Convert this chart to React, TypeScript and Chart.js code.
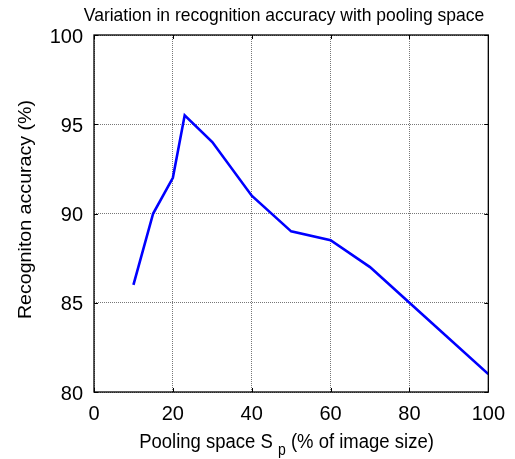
import React, { useEffect, useRef } from "react";
import { Chart, registerables } from "chart.js";

Chart.register(...registerables);

const poolingSpace = [10, 15, 20, 23, 30, 40, 50, 60, 70, 80, 100];
const accuracy = [86, 90, 92, 95.5, 94, 91, 89, 88.5, 87, 85, 81];
const xTicks = [0, 20, 40, 60, 80, 100];
const yTicks = [80, 85, 90, 95, 100];

const titleText = "Variation in recognition accuracy with pooling space";
const yTitle = "Recogniton accuracy (%)";
const xTitleMain = "Pooling space S ";
const xTitleSub = "p";
const xTitleTail = " (% of image size)";

export default function App() {
  const ref = useRef<HTMLCanvasElement | null>(null);
  useEffect(() => {
    document.body.style.margin = "0";
    const canvas = ref.current;
    if (!canvas) return;
    const font = "'Liberation Sans', Arial, sans-serif";
    const framePlugin = {
      id: "frame",
      afterDraw(chart: any) {
        const { ctx, chartArea } = chart;
        const { left, right, top, bottom } = chartArea;
        const xs = chart.scales.x;
        const ys = chart.scales.y;
        ctx.save();
        ctx.strokeStyle = "#000";
        ctx.lineWidth = 1.3;
        ctx.strokeRect(left, top, right - left, bottom - top);
        ctx.lineWidth = 1;
        const tl = 4;
        ctx.beginPath();
        for (const v of xTicks) {
          const px = Math.round(xs.getPixelForValue(v)) + 0.5;
          ctx.moveTo(px, bottom);
          ctx.lineTo(px, bottom - tl);
          ctx.moveTo(px, top);
          ctx.lineTo(px, top + tl);
        }
        for (const v of yTicks) {
          const py = Math.round(ys.getPixelForValue(v)) + 0.5;
          ctx.moveTo(left, py);
          ctx.lineTo(left + tl, py);
          ctx.moveTo(right, py);
          ctx.lineTo(right - tl, py);
        }
        ctx.stroke();
        ctx.fillStyle = "#000";
        ctx.textBaseline = "alphabetic";

        // title
        ctx.save();
        ctx.textAlign = "center";
        ctx.font = `17.5px ${font}`;
        ctx.translate(284, 21);
        ctx.scale(1, 1.06);
        ctx.fillText(titleText, 0, 0);
        ctx.restore();

        // x title with subscript
        ctx.save();
        ctx.font = `18.5px ${font}`;
        const w1 = ctx.measureText(xTitleMain).width;
        const w3 = ctx.measureText(xTitleTail).width;
        ctx.font = `14px ${font}`;
        const w2 = ctx.measureText(xTitleSub).width;
        const total = w1 + w2 + w3;
        const cx = 286.5;
        ctx.translate(cx - total / 2, 448);
        ctx.scale(1, 1.12);
        ctx.textAlign = "left";
        ctx.font = `18.5px ${font}`;
        ctx.fillText(xTitleMain, 0, 0);
        ctx.font = `14px ${font}`;
        ctx.fillText(xTitleSub, w1, 6);
        ctx.font = `18.5px ${font}`;
        ctx.fillText(xTitleTail, w1 + w2, 0);
        ctx.restore();

        // y title
        ctx.save();
        ctx.translate(31, 209.5);
        ctx.rotate(-Math.PI / 2);
        ctx.scale(1.09, 1);
        ctx.textAlign = "center";
        ctx.font = `18px ${font}`;
        ctx.fillText(yTitle, 0, 0);
        ctx.restore();
        ctx.restore();
      },
    };
    const chart = new Chart(canvas, {
      type: "line",
      data: {
        datasets: [
          {
            data: poolingSpace.map((x, i) => ({ x, y: accuracy[i] })),
            borderColor: "#0000ff",
            borderWidth: 2.6,
            pointRadius: 0,
            fill: false,
            tension: 0,
          },
        ],
      },
      options: {
        animation: false,
        responsive: false,
        layout: { padding: { top: 35, right: 26, left: 0, bottom: 0 } },
        plugins: {
          legend: { display: false },
          title: { display: false },
          tooltip: { enabled: false },
        },
        scales: {
          x: {
            type: "linear",
            min: 0,
            max: 100,
            afterBuildTicks: (s: any) => {
              s.ticks = xTicks.map((v) => ({ value: v }));
            },
            afterFit: (s: any) => {
              s.height = 67;
            },
            grid: { color: "#777", lineWidth: 1, drawTicks: false },
            border: { display: false, dash: [1, 1] },
            ticks: {
              color: "#000",
              padding: 10,
              maxRotation: 0,
              font: { family: font, size: 20 },
            },
          },
          y: {
            type: "linear",
            min: 80,
            max: 100,
            afterBuildTicks: (s: any) => {
              s.ticks = yTicks.map((v) => ({ value: v }));
            },
            afterFit: (s: any) => {
              s.width = 94;
            },
            grid: { color: "#777", lineWidth: 1, drawTicks: false },
            border: { display: false, dash: [1, 1] },
            ticks: {
              color: "#000",
              padding: 11,
              labelOffset: 2,
              font: { family: font, size: 20 },
            },
          },
        },
      },
      plugins: [framePlugin],
    });
    return () => chart.destroy();
  }, []);
  return (
    <div style={{ width: 515, height: 459 }}>
      <canvas ref={ref} width={515} height={459} />
    </div>
  );
}
